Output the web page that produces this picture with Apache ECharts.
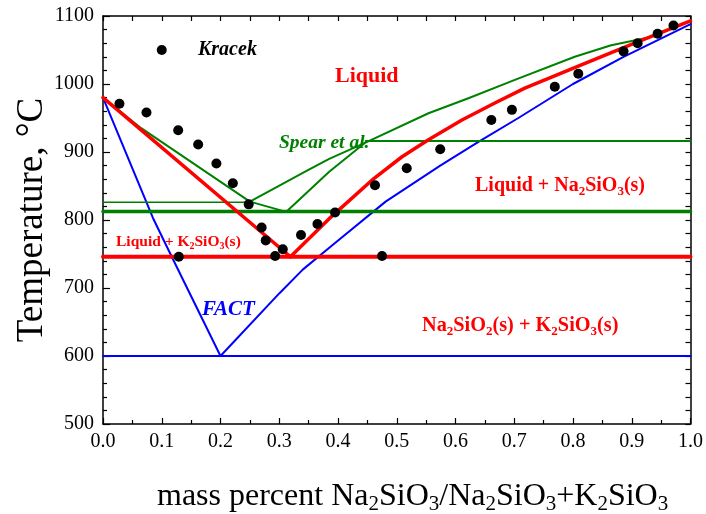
<!DOCTYPE html>
<html><head><meta charset="utf-8">
<script src="https://cdn.jsdelivr.net/npm/echarts@6/dist/echarts.min.js"></script>
<style>html,body{margin:0;padding:0;background:#fff}#c{width:706px;height:514px}</style>
</head><body><div id="c"></div>
<script>
// ---- data (x = mass fraction Na2SiO3, y = temperature in °C) ----
const kracekPoints = [
  [0.028,971],[0.074,958],[0.128,932],[0.162,911],[0.193,883],[0.221,854],[0.248,823],
  [0.270,789],[0.277,770],[0.293,747],[0.306,757],[0.337,778],[0.365,794],[0.395,811],
  [0.463,851],[0.475,747],[0.129,746],[0.517,876],[0.574,904],[0.661,947],[0.696,962],
  [0.769,996],[0.809,1015],[0.886,1048],[0.910,1060],[0.944,1074],[0.971,1086]
];
const kracekKey = [[0.1,1050]];

const redLiquidusLeft = [[0,980],[0.319,746]];
const redLiquidusRight = [[0.319,746],[0.385,802],[0.461,861],[0.509,893],[0.554,918],[0.611,947],
  [0.667,972],[0.718,994],[0.808,1026],[0.910,1062],[1.0,1093]];
const redEutectic = [[0,746],[1,746]];

const greenLiquidusLeft = [[0,980],[0.065,935],[0.25,827]];
const greenStep = [[0.25,827],[0.312,812]];
const greenLiquidusUpper = [[0.25,827],[0.348,873],[0.385,890],[0.445,913],[0.554,957],[0.622,979],
  [0.701,1006],[0.803,1040],[0.865,1057],[0.927,1068],[1.0,1093]];
const greenLiquidusLower = [[0.312,812],[0.385,871],[0.445,913]];
const greenLine826 = [[0,826],[0.25,826]];
const greenLine813 = [[0,812.5],[1,812.5]];
const greenLine916 = [[0.447,916],[1,916]];

const blueLiquidusLeft = [[0,980],[0.085,803],[0.117,746],[0.2,600]];
const blueLiquidusRight = [[0.2,600],[0.3,692],[0.34,727],[0.396,767],[0.481,827],[0.574,880],
  [0.639,915],[0.707,950],[0.80,1000],[0.886,1040],[1.0,1088]];
const blueSolidus = [[0,600],[1,600]];

const xTickValues = [0,0.1,0.2,0.3,0.4,0.5,0.6,0.7,0.8,0.9,1.0];
const yTickValues = [500,600,700,800,900,1000,1100];

// ---- chart ----
const FONT = 'Liberation Serif';
const RED = '#ff0000', GREEN = '#008000', BLUE = '#0000ff';

function line(name, data, color, width) {
  return { name, type:'line', data, symbol:'none', smooth:false, silent:true,
    lineStyle:{color, width, cap:'round', join:'round'}, animation:false };
}

const chart = echarts.init(document.getElementById('c'), null, {renderer:'canvas'});

function sub(parts, size, subSize, color, weight, style) {
  let txt = parts.map(p => (p[1] ? '{s|' : '{m|') + p[0] + '}').join('');
  return {
    text: txt,
    fill: color,
    rich: {
      m: {fontFamily:FONT, fontSize:size, fontWeight:weight, fontStyle:style, fill:color, lineHeight:size+4},
      s: {fontFamily:FONT, fontSize:subSize, fontWeight:weight, fontStyle:style, fill:color, lineHeight:subSize, verticalAlign:'bottom'}
    },
    verticalAlign:'middle'
  };
}

const option = {
  animation:false,
  backgroundColor:'#fff',
  grid:{left:103, right:13, top:16, bottom:90, containLabel:false},
  xAxis:[{
    type:'value', min:0, max:1, interval:0.1, position:'bottom',
    axisLine:{show:true, onZero:false, lineStyle:{color:'#000', width:1.5}},
    axisTick:{inside:true, length:6, lineStyle:{color:'#000', width:1.2}},
    minorTick:{show:true, splitNumber:2, length:4, lineStyle:{color:'#000', width:1.2}},
    axisLabel:{formatter:v => xTickValues.includes(+v.toFixed(1)) ? v.toFixed(1) : '', fontFamily:FONT, fontSize:20, color:'#000', margin:8},
    splitLine:{show:false}
  },{
    type:'value', min:0, max:1, interval:0.05, position:'top',
    axisLine:{show:true, onZero:false, lineStyle:{color:'#000', width:1.5}},
    axisTick:{inside:true, length:5, lineStyle:{color:'#000', width:1.2}},
    axisLabel:{show:false}, splitLine:{show:false}
  }],
  yAxis:[{
    type:'value', min:500, max:1100, interval:100, position:'left',
    axisLine:{show:true, onZero:false, lineStyle:{color:'#000', width:1.5}},
    axisTick:{inside:true, length:7, lineStyle:{color:'#000', width:1.2}},
    minorTick:{show:true, splitNumber:5, length:4, lineStyle:{color:'#000', width:1.2}},
    axisLabel:{formatter:v => yTickValues.includes(v) ? String(v) : '', fontFamily:FONT, fontSize:20, color:'#000', margin:9},
    splitLine:{show:false}
  },{
    type:'value', min:500, max:1100, interval:20, position:'right',
    axisLine:{show:true, onZero:false, lineStyle:{color:'#000', width:1.5}},
    axisTick:{inside:true, length:5, lineStyle:{color:'#000', width:1.2}},
    axisLabel:{show:false}, splitLine:{show:false}
  }],
  series:[
    line('FACT left', blueLiquidusLeft, BLUE, 2),
    line('FACT right', blueLiquidusRight, BLUE, 2),
    line('FACT solidus', blueSolidus, BLUE, 2),
    line('Spear 826', greenLine826, GREEN, 1.5),
    line('Spear 813', greenLine813, GREEN, 3.5),
    line('Spear 916', greenLine916, GREEN, 2),
    line('Spear left', greenLiquidusLeft, GREEN, 2),
    line('Spear step', greenStep, GREEN, 2),
    line('Spear upper', greenLiquidusUpper, GREEN, 2),
    line('Spear lower', greenLiquidusLower, GREEN, 2),
    line('Model left', redLiquidusLeft, RED, 3.5),
    line('Model right', redLiquidusRight, RED, 3.5),
    line('Model eutectic', redEutectic, RED, 4),
    {name:'Kracek', type:'scatter', data:kracekPoints, symbol:'circle', symbolSize:10,
      itemStyle:{color:'#000', opacity:1}, silent:true, z:5},
    {name:'Kracek key', type:'scatter', data:kracekKey, symbol:'circle', symbolSize:10,
      itemStyle:{color:'#000', opacity:1}, silent:true, z:5}
  ],
  graphic:[
    {type:'text', x:198, y:50, style:{text:'Kracek', fill:'#000', font:'italic bold 20px "Liberation Serif"', verticalAlign:'middle'}},
    {type:'text', x:335, y:76, style:{text:'Liquid', fill:RED, font:'bold 22px "Liberation Serif"', verticalAlign:'middle'}},
    {type:'text', x:279, y:143, style:{text:'Spear et al.', fill:GREEN, font:'italic bold 19.5px "Liberation Serif"', verticalAlign:'middle'}},
    {type:'text', x:202, y:310, style:{text:'FACT', fill:BLUE, font:'italic bold 21px "Liberation Serif"', verticalAlign:'middle'}},
    {type:'text', x:475, y:186, style:sub([['Liquid + Na',0],['2',1],['SiO',0],['3',1],['(s)',0]], 20, 13, RED, 'bold', 'normal')},
    {type:'text', x:116, y:242, style:sub([['Liquid + K',0],['2',1],['SiO',0],['3',1],['(s)',0]], 15.5, 10, RED, 'bold', 'normal')},
    {type:'text', x:422, y:326, style:sub([['Na',0],['2',1],['SiO',0],['2',1],['(s) + K',0],['2',1],['SiO',0],['3',1],['(s)',0]], 20.3, 13, RED, 'bold', 'normal')},
    {type:'text', x:32, y:220, rotation:Math.PI/2, style:{text:'Temperature, °C', fill:'#000', font:'37px "Liberation Serif"', align:'center', verticalAlign:'middle'}},
    {type:'text', x:157, y:497, style:sub([['mass percent Na',0],['2',1],['SiO',0],['3',1],['/Na',0],['2',1],['SiO',0],['3',1],['+K',0],['2',1],['SiO',0],['3',1]], 32, 21, '#000', 'normal', 'normal')}
  ]
};
chart.setOption(option);
</script>
</body></html>
